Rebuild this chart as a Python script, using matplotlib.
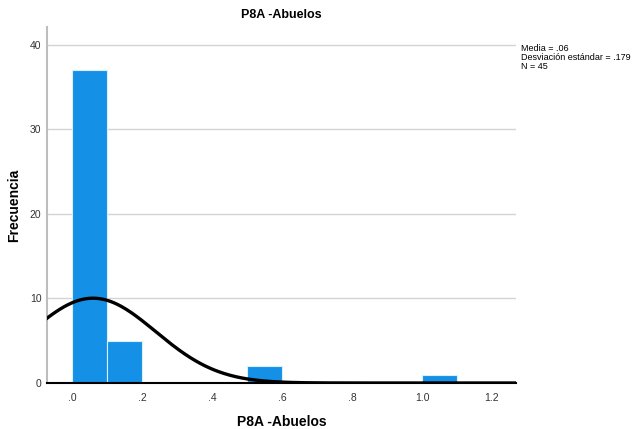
import numpy as np
import matplotlib
import matplotlib.pyplot as plt

matplotlib.use("agg")
plt.rcParams["font.family"] = ["Liberation Sans", "DejaVu Sans"]

# histogram bins (left edge) and counts
bin_left = [0.0, 0.1, 0.5, 1.0]
counts = [37, 5, 2, 1]
bin_width = 0.1

mean = 0.06
std = 0.179
n = 45

xticks = [0.0, 0.2, 0.4, 0.6, 0.8, 1.0, 1.2]
xtick_labels = [".0", ".2", ".4", ".6", ".8", "1.0", "1.2"]
yticks = [0, 10, 20, 30, 40]

fig = plt.figure(figsize=(6.34, 4.29), dpi=100)
ax = fig.add_axes([47 / 634, 46 / 429, 469 / 634, 356 / 429])

for y in yticks[1:]:
    ax.axhline(y, color="#d4d4d4", lw=1.0, zorder=0)

ax.bar(bin_left, counts, width=bin_width, align="edge", color="#1490e6",
       edgecolor="#dbeefc", linewidth=0.8, zorder=2)

xs = np.linspace(-0.08, 1.28, 400)
ys = n * bin_width / (std * np.sqrt(2 * np.pi)) * np.exp(-0.5 * ((xs - mean) / std) ** 2)
ax.plot(xs, ys, color="black", lw=2.4, zorder=3)

ax.set_xlim(-0.0714, 1.2686)
ax.set_ylim(0, 42.1)
ax.set_xticks(xticks)
ax.set_xticklabels(xtick_labels)
ax.set_yticks(yticks)
ax.tick_params(length=0, labelsize=7.5, colors="#333333")
ax.tick_params(axis="x", pad=7)
ax.tick_params(axis="y", pad=4)

for s in ["top", "right"]:
    ax.spines[s].set_visible(False)
ax.spines["left"].set_color("#bdbdbd")
ax.spines["left"].set_linewidth(1.5)
ax.spines["bottom"].set_color("black")
ax.spines["bottom"].set_linewidth(1.5)
ax.spines["bottom"].set_zorder(4)

ax.set_xlabel("P8A -Abuelos", fontsize=10, fontweight="bold", labelpad=9)
ax.set_ylabel("Frecuencia", fontsize=10, fontweight="bold", labelpad=6)
fig.text(0.5 * (47 + 516) / 634, 1 - 15 / 429, "P8A -Abuelos", ha="center", va="center",
         fontsize=9, fontweight="bold")

fig.text(521 / 634, 1 - 44 / 429,
         "Media = .06\nDesviación estándar = .179\nN = 45",
         ha="left", va="top", fontsize=6.5, linespacing=1.0)

fig.savefig("out.png", dpi=100)
